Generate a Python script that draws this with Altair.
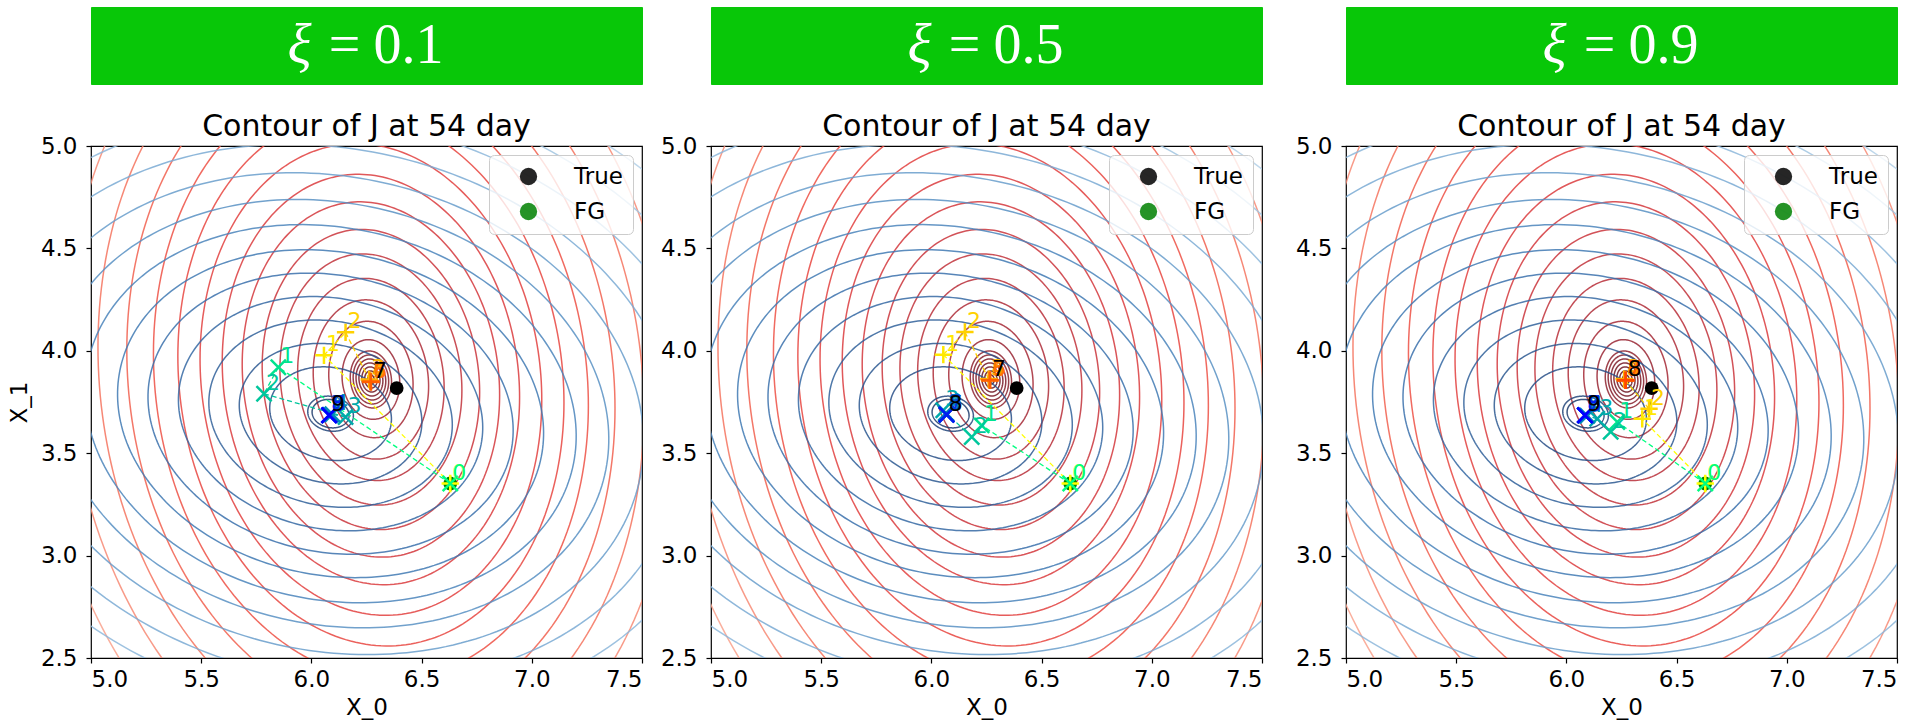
import altair as alt
import numpy as np
import pandas as pd

# ---- axes ----
X_TICKS = [5.0, 5.5, 6.0, 6.5, 7.0, 7.5]
Y_TICKS = [2.5, 3.0, 3.5, 4.0, 4.5, 5.0]
XI_VALUES = ["0.1", "0.5", "0.9"]
PANEL_TITLE = "Contour of J at 54 day"

# ---- reference states ----
TRUE_STATE = (6.387, 3.818)
FG_STATE = (6.630, 3.352)

# ---- contour families of J (elliptical level sets) ----
RED_CENTER = (6.270, 3.860)
RED_SEMI_X = [0.015, 0.028, 0.041, 0.054, 0.067, 0.080, 0.093,
              0.13, 0.19, 0.26, 0.33, 0.41, 0.49, 0.58, 0.67, 0.77,
              0.87, 0.98, 1.10, 1.23, 1.37, 1.52, 1.68, 1.85]
RED_RATIO = 1.5
RED_TILT = 6
RED_COLORS = ["#5e0f1c", "#66121f", "#6e1522", "#761825", "#7e1b28", "#861e2b", "#8e222e",
              "#992532", "#a42835", "#ae2b37", "#b82e38", "#c1313a", "#ca343b", "#d3373c",
              "#db3b3d", "#e23f3e", "#e84540", "#ed5044", "#f15f4d", "#f4735e", "#f78a74",
              "#f9a18c", "#fbb8a5", "#fccebe"]

BLUE_CENTER = (6.087, 3.693)
BLUE_SEMI_X = [0.085, 0.105,
               0.28, 0.42, 0.56, 0.70, 0.84, 0.98, 1.13, 1.28, 1.44, 1.61,
               1.79, 1.98, 2.18, 2.40, 2.63, 2.87, 3.12]
BLUE_RATIO = 0.8
BLUE_TILT = -16
BLUE_COLORS = ["#1c3a6b", "#22457a",
               "#284f87", "#2c5891", "#30609a", "#3568a3", "#3a70ab", "#4079b3",
               "#4a84bb", "#5890c3", "#689dcb", "#7aaad3", "#8db7da", "#a0c4e1",
               "#b3d0e8", "#c4dbee", "#d3e4f3", "#dfecf7", "#e9f2f9"]

# ---- minimisation iterates for each xi ----
PLUS_X = [[6.630, 6.057, 6.155, 6.262, 6.267, 6.269, 6.270, 6.270],
          [6.630, 6.054, 6.152, 6.260, 6.264, 6.265, 6.266, 6.266],
          [6.630, 6.344, 6.375, 6.262, 6.266, 6.268, 6.269, 6.269, 6.269]]
PLUS_Y = [[3.352, 3.978, 4.090, 3.860, 3.853, 3.850, 3.849, 3.848],
          [3.352, 3.981, 4.092, 3.862, 3.858, 3.857, 3.856, 3.856],
          [3.352, 3.668, 3.717, 3.862, 3.858, 3.857, 3.856, 3.856, 3.856]]
CROSS_X = [[6.630, 5.850, 5.785, 6.155, 6.095, 6.085, 6.082, 6.081, 6.080, 6.080],
           [6.630, 6.228, 6.183, 6.054, 6.065, 6.068, 6.069, 6.069, 6.069],
           [6.630, 6.231, 6.201, 6.140, 6.095, 6.088, 6.085, 6.084, 6.084, 6.084]]
CROSS_Y = [[3.352, 3.920, 3.790, 3.677, 3.690, 3.687, 3.686, 3.685, 3.685, 3.685],
           [3.352, 3.636, 3.579, 3.710, 3.695, 3.690, 3.689, 3.688, 3.688],
           [3.352, 3.652, 3.604, 3.668, 3.683, 3.684, 3.685, 3.685, 3.685, 3.685]]

PLUS_PATH = "M-1,0L1,0M0,-1L0,1"
CROSS_PATH = "M-1,-1L1,1M-1,1L1,-1"
FONT = "DejaVu Sans"
PANEL_W, PANEL_H = 551, 512


def ellipse_rows(tag, center, semi_x, ratio, tilt_deg, colors):
    t = np.linspace(0.0, 2.0 * np.pi, 241)
    phi = np.deg2rad(tilt_deg)
    rows = []
    for k, (a, col) in enumerate(zip(semi_x, colors)):
        b = a * ratio
        ex = center[0] + a * np.cos(t) * np.cos(phi) - b * np.sin(t) * np.sin(phi)
        ey = center[1] + a * np.cos(t) * np.sin(phi) + b * np.sin(t) * np.cos(phi)
        for j in range(len(t)):
            rows.append({"x": ex[j], "y": ey[j], "ring": f"{tag}{k}", "k": j, "col": col})
    return rows


contours = pd.DataFrame(
    ellipse_rows("r", RED_CENTER, RED_SEMI_X, RED_RATIO, RED_TILT, RED_COLORS)
    + ellipse_rows("b", BLUE_CENTER, BLUE_SEMI_X, BLUE_RATIO, BLUE_TILT, BLUE_COLORS)
)


def autumn_r(s):
    g = int(round(255 * (1 - s)))
    return f"#ff{g:02x}00"


def winter_r(s):
    g = int(round(255 * (1 - s)))
    b = int(round(255 * (0.5 + s / 2)))
    return f"#00{g:02x}{b:02x}"


def path_frames(xs, ys, cmap, denom, tag):
    n = len(xs)
    cols = [cmap(i / denom) for i in range(n)]
    pts = pd.DataFrame({
        "x": xs, "y": ys, "col": cols,
        "lab": [str(i) for i in range(n)],
        "labcol": cols[:-1] + ["black"],
        "i": list(range(n)),
    })
    seg_rows = []
    for i in range(n - 1):
        for j in (0, 1):
            seg_rows.append({"x": xs[i + j], "y": ys[i + j], "seg": f"{tag}{i}", "k": j, "col": cols[i]})
    return pts, pd.DataFrame(seg_rows)


def panel(p):
    xenc = alt.X("x:Q", scale=alt.Scale(domain=[5.0, 7.5], nice=False, zero=False),
                 axis=alt.Axis(values=X_TICKS, format=".1f", title="X_0", labelPadding=5, titlePadding=5))
    if p == 0:
        yaxis = alt.Axis(values=Y_TICKS, format=".1f", title="X_1", labelPadding=9, titlePadding=9)
    elif p == 1:
        yaxis = alt.Axis(values=Y_TICKS, format=".1f", title=None, labelPadding=9)
    else:
        yaxis = alt.Axis(values=Y_TICKS, format=".1f", title=None, labelPadding=9, minExtent=66)
    yenc = alt.Y("y:Q", scale=alt.Scale(domain=[2.5, 5.0], nice=False, zero=False), axis=yaxis)

    rings = alt.Chart(contours).mark_line(clip=True, strokeWidth=1.5, opacity=0.85).encode(
        x=xenc, y=yenc, detail="ring:N", order="k:Q", color=alt.Color("col:N", scale=None))

    plus_pts, plus_seg = path_frames(PLUS_X[p], PLUS_Y[p], autumn_r, 11, "p")
    cross_pts, cross_seg = path_frames(CROSS_X[p], CROSS_Y[p], winter_r, 9, "c")
    segs = pd.concat([plus_seg, cross_seg], ignore_index=True)

    dashes = alt.Chart(segs).mark_line(strokeDash=[5, 3], strokeWidth=1.3, clip=True).encode(
        x=xenc, y=yenc, detail="seg:N", order="k:Q", color=alt.Color("col:N", scale=None))

    states = pd.DataFrame({"x": [TRUE_STATE[0], FG_STATE[0]], "y": [TRUE_STATE[1], FG_STATE[1]],
                           "name": ["True", "FG"]})
    dots = alt.Chart(states).mark_circle(size=190, opacity=1).encode(
        x=xenc, y=yenc,
        color=alt.Color("name:N", scale=alt.Scale(domain=["True", "FG"], range=["black", "#008000"]),
                        legend=alt.Legend(title=None, orient="top-right", offset=9,
                                          fillColor="rgba(255,255,255,0.8)", strokeColor="#cccccc",
                                          cornerRadius=5, padding=10, labelFont=FONT, labelFontSize=23,
                                          symbolSize=300, symbolType="circle", symbolStrokeWidth=0,
                                          symbolOpacity=1, symbolOffset=18, labelOffset=34,
                                          rowPadding=11)))

    plus_marks = alt.Chart(plus_pts).mark_point(shape=PLUS_PATH, filled=False, size=300, strokeWidth=2.5,
                                                opacity=1).encode(
        x=xenc, y=yenc, color=alt.Color("col:N", scale=None), order="i:Q")
    cross_marks = alt.Chart(cross_pts).mark_point(shape=CROSS_PATH, filled=False, size=230, strokeWidth=2.5,
                                                  opacity=1).encode(
        x=xenc, y=yenc, color=alt.Color("col:N", scale=None), order="i:Q")

    labels = []
    for pts in (plus_pts, cross_pts):
        labels.append(alt.Chart(pts).mark_text(font=FONT, fontSize=22, dx=9, dy=-11, align="center",
                                               baseline="middle").encode(
            x=xenc, y=yenc, text="lab:N", color=alt.Color("labcol:N", scale=None), order="i:Q"))

    plot = alt.layer(rings, dashes, dots, plus_marks, cross_marks, *labels).properties(
        width=PANEL_W, height=PANEL_H,
        title=alt.TitleParams(PANEL_TITLE, font=FONT, fontSize=30, fontWeight="normal",
                              anchor="middle", frame="group", offset=-7, color="black"))

    # green banner with the xi value: italic xi, then "=", then the number
    banner_src = pd.DataFrame({"sym": ["ξ"], "eq": ["="], "val": [XI_VALUES[p]]})
    banner = alt.Chart(banner_src)
    xi = banner.mark_text(font="Liberation Serif", fontSize=56, fontStyle="italic", color="white",
                          align="center", baseline="middle", dx=-67).encode(text="sym:N")
    eq = banner.mark_text(font="Liberation Serif", fontSize=56, color="white",
                          align="center", baseline="middle", dx=-22).encode(text="eq:N")
    val = banner.mark_text(font="Liberation Serif", fontSize=56, color="white",
                           align="center", baseline="middle", dx=42).encode(text="val:N")
    header = alt.layer(xi, eq, val).properties(width=PANEL_W, height=77,
                                               view=alt.ViewBackground(fill="#08c708", stroke="#08c708"))

    return alt.vconcat(header, plot, spacing=26).resolve_scale(color="independent")


chart = alt.hconcat(panel(0), panel(1), panel(2), spacing=15).resolve_scale(
    color="independent").resolve_legend(color="independent").properties(
    padding={"left": 7, "top": 6, "right": 5, "bottom": 0}, background="white")

chart = chart.configure_view(stroke="black", strokeWidth=1.2).configure_axis(
    domain=False, grid=False, tickColor="black", tickSize=5, tickWidth=1.2,
    labelFont=FONT, labelFontSize=23, labelColor="black",
    titleFont=FONT, titleFontSize=23, titleFontWeight="normal", titleColor="black")

chart.save("out.html", embed_options={"renderer": "svg", "actions": False})
